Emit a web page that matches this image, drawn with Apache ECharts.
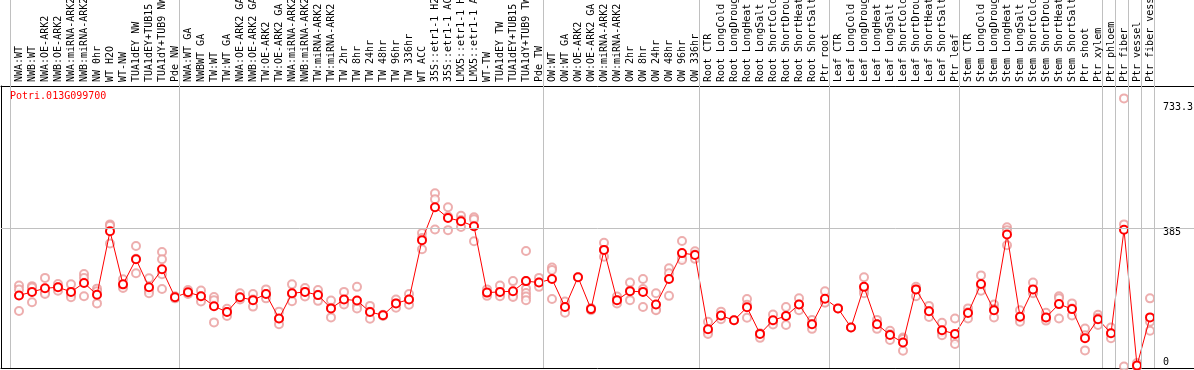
<!DOCTYPE html>
<html><head><meta charset="utf-8">
<script src="https://cdn.jsdelivr.net/npm/echarts@6/dist/echarts.min.js"></script>
<style>html,body{margin:0;padding:0;background:#fff}#c{width:1194px;height:370px}</style>
</head><body><div id="c"></div>
<script>
const geneName = 'Potri.013G099700';
const categories = [
 'NWA:WT','NWB:WT','NWA:OE-ARK2','NWB:OE-ARK2','NWA:miRNA-ARK2','NWB:miRNA-ARK2','NW 0hr','WT H2O','WT-NW','TUA1dEY NW','TUA1dEY+TUB15 NW','TUA1dY+TUB9 NW','Pde NW',
 'NWA:WT GA','NWBWT GA','TW:WT','TW:WT GA','NWA:OE-ARK2 GA','NWB:OE-ARK2 GA','TW:OE-ARK2','TW:OE-ARK2 GA','NWA:miRNA-ARK2 GA','NWB:miRNA-ARK2 GA','TW:miRNA-ARK2','TW:miRNA-ARK2',
 'TW 2hr','TW 8hr','TW 24hr','TW 48hr','TW 96hr','TW 336hr','WT ACC','35S::etr1-1 H2O','35S::etr1-1 ACC','LMX5::etr1-1 H2O','LMX5::etr1-1 ACC','WT-TW','TUA1dEY TW','TUA1dEY+TUB15 TW','TUA1dY+TUB9 TW','Pde TW',
 'OW:WT','OW:WT GA','OW:OE-ARK2','OW:OE-ARK2 GA','OW:miRNA-ARK2','OW:miRNA-ARK2','OW 2hr','OW 8hr','OW 24hr','OW 48hr','OW 96hr','OW 336hr',
 'Root CTR','Root LongCold','Root LongDrought','Root LongHeat','Root LongSalt','Root ShortCold','Root ShortDrought','Root ShortHeat','Root ShortSalt','Ptr root',
 'Leaf CTR','Leaf LongCold','Leaf LongDrought','Leaf LongHeat','Leaf LongSalt','Leaf ShortCold','Leaf ShortDrought','Leaf ShortHeat','Leaf ShortSalt','Ptr leaf',
 'Stem CTR','Stem LongCold','Stem LongDrought','Stem LongHeat','Stem LongSalt','Stem ShortCold','Stem ShortDrought','Stem ShortHeat','Stem ShortSalt','Ptr shoot','Ptr xylem',
 'Ptr phloem','Ptr fiber','Ptr vessel','Ptr fiber vessel'
];
// index of first category of each group (plus end)
const groupStarts = [0, 13, 41, 53, 63, 73, 84, 85, 86, 87, 88];
const meanValues = [
 198,208,218,221,208,233,200,377,229,299,221,271,193,
 207,196,168,152,193,185,202,134,204,208,199,162,187,184,152,143,176,187,352,444,414,405,391,206,208,210,238,234,
 244,166,249,160,325,185,210,208,173,244,316,311,
 104,142,129,165,91,129,141,173,118,189,
 162,109,222,118,88,67,215,154,101,91,
 149,230,157,368,139,215,137,174,160,79,132,
 93,381,3,137
];
const replicateValues = [
 [226,215,155],[224,220,179],[247,206,202],[230,221,211],[229,201,193],[258,247,196],[217,210,176],[396,392,343],[243,225,219],[336,300,260],[246,213,204],[319,299,257,216],[196,190,193],
 [213,205,202],[212,195,181],[194,185,123],[161,152,141],[204,192,187],[202,187,167],[215,202,190],[153,132,118],[229,202,182],[219,208,195],[213,200,183],[184,164,137],[208,180,173],[222,170,162],[169,153,133],[144,143,141],[187,176,164],[202,187,172],[372,358,327],[483,466,382],[444,418,380],[420,408,389],[416,410,349],[215,205,197],[226,204,196],[238,198,194],[322,238,217,205,195,185],[247,234,222],
 [276,269,188],[181,166,150],[249],[163,160,157],[345,325,306],[195,185,176],[234,212,185],[244,216,166],[204,159,157],[274,260,197],[350,302,297],[321,312,300],
 [125,96,91],[153,140,132],[129],[188,172,136],[93,91,80],[145,126,117],[166,141,116],[190,173,157],[130,118,105],[210,180,178],
 [162],[109],[249,214,204],[130,118,105],[100,90,74],[81,77,44],[222,215,196],[169,155,138],[122,96,87],[134,77,63],
 [162,151,134],[254,226,211],[173,160,137],[388,380,338],[157,135,125],[234,208,204],[150,134,128],[196,190,134],[176,162,142],[106,87,45],[144,136,116],
 [109,92,79],[747,396,0],[10,0,0],[190,125,100]
];
const yTickLabels = [385, 733.3];
const yZeroLabel = [0];
const yGrid = 385;

const mono = 'DejaVu Sans Mono';
const xMin = -18/13, xMax = -18/13 + 1193/13;
const yMin = -4, yMax = 781.5;
const sepValues = groupStarts.map(k => k - 9/13);

const meanData = meanValues.map((v, i) => [i, v]);
const repData = [];
replicateValues.forEach((arr, i) => arr.forEach(v => repData.push([i, v])));

const chart = echarts.init(document.getElementById('c'), null, {renderer: 'canvas'});
chart.setOption({
  animation: false,
  backgroundColor: '#fff',
  title: { text: geneName, left: 10, top: 91, padding: 0,
    textStyle: { color: '#ff0000', fontSize: 10, fontFamily: mono, fontWeight: 'normal' } },
  grid: [
    { left: 1, right: 0, top: 86, bottom: 2, containLabel: false, outerBoundsMode: 'none' },
    // label grid: one 13px cell per category, centred on the data points
    { left: 12.5, width: 1144, top: 86, bottom: 2, containLabel: false, outerBoundsMode: 'none' }
  ],
  xAxis: [
    { type: 'value', gridIndex: 0, position: 'top', min: xMin, max: xMax,
      axisLine: { show: true, onZero: false, lineStyle: { color: '#000', width: 1 } },
      axisTick: { show: true, customValues: sepValues, length: 86, inside: false, lineStyle: { color: '#c0c0c0', width: 1 } },
      axisLabel: { show: false }, splitLine: { show: false } },
    { type: 'value', gridIndex: 0, position: 'bottom', min: xMin, max: xMax,
      axisLine: { show: true, onZero: false, lineStyle: { color: '#000', width: 1 } },
      axisTick: { show: false }, axisLabel: { show: false }, splitLine: { show: false } },
    { type: 'category', gridIndex: 1, position: 'top', data: categories, boundaryGap: true,
      axisLine: { show: false }, axisTick: { show: false }, splitLine: { show: false },
      axisLabel: { show: true, interval: 0, rotate: 90, margin: 4, hideOverlap: false,
        fontFamily: mono, fontSize: 10, color: '#000' } },
    { type: 'value', gridIndex: 0, position: 'top', min: xMin, max: xMax,
      axisLine: { show: false }, axisLabel: { show: false }, splitLine: { show: false },
      axisTick: { show: true, customValues: [xMin], length: 86, inside: false, lineStyle: { color: '#000', width: 1 } } }
  ],
  yAxis: [
    { type: 'value', gridIndex: 0, position: 'right', min: yMin, max: yMax,
      axisLine: { show: false }, axisTick: { show: false }, splitLine: { show: false },
      axisLabel: { show: true, customValues: yTickLabels, inside: true, align: 'left', margin: 31,
        verticalAlign: 'top', lineHeight: 8, fontFamily: mono, fontSize: 10, color: '#000',
        formatter: v => String(v) } },
    { type: 'value', gridIndex: 0, position: 'left', min: yMin, max: yMax,
      axisLine: { show: true, onZero: false, lineStyle: { color: '#000', width: 1 } },
      axisTick: { show: false }, axisLabel: { show: false }, splitLine: { show: false } },
    { type: 'value', gridIndex: 0, position: 'right', min: yMin, max: yMax,
      axisLine: { show: false }, axisTick: { show: false }, splitLine: { show: false },
      axisLabel: { show: true, customValues: yZeroLabel, inside: true, align: 'left', margin: 31,
        verticalAlign: 'bottom', lineHeight: 8, fontFamily: mono, fontSize: 10, color: '#000',
        formatter: v => String(v) } },
    { type: 'value', gridIndex: 1, show: false, min: yMin, max: yMax }
  ],
  series: [
    { type: 'scatter', name: 'guides', xAxisIndex: 0, yAxisIndex: 0, data: [], silent: true,
      markLine: { silent: true, symbol: 'none', animation: false, label: { show: false },
        lineStyle: { color: '#c0c0c0', width: 1, type: 'solid' },
        data: sepValues.map(v => ({ xAxis: v })).concat([{ yAxis: yGrid }]) } },
    { type: 'scatter', name: 'replicates', xAxisIndex: 0, yAxisIndex: 0, data: repData,
      symbol: 'emptyCircle', symbolSize: 8, z: 3,
      itemStyle: { color: '#e89a9a', borderColor: '#e89a9a', borderWidth: 1 } },
    { type: 'line', name: 'mean', xAxisIndex: 0, yAxisIndex: 0, data: meanData,
      symbol: 'emptyCircle', symbolSize: 8, showAllSymbol: true, z: 4,
      lineStyle: { color: '#ff0000', width: 1 },
      itemStyle: { color: '#ff0000', borderColor: '#ff0000', borderWidth: 1.2 } },
    { type: 'scatter', name: 'labels', xAxisIndex: 2, yAxisIndex: 3, data: [], silent: true }
  ]
});
</script>
</body></html>
